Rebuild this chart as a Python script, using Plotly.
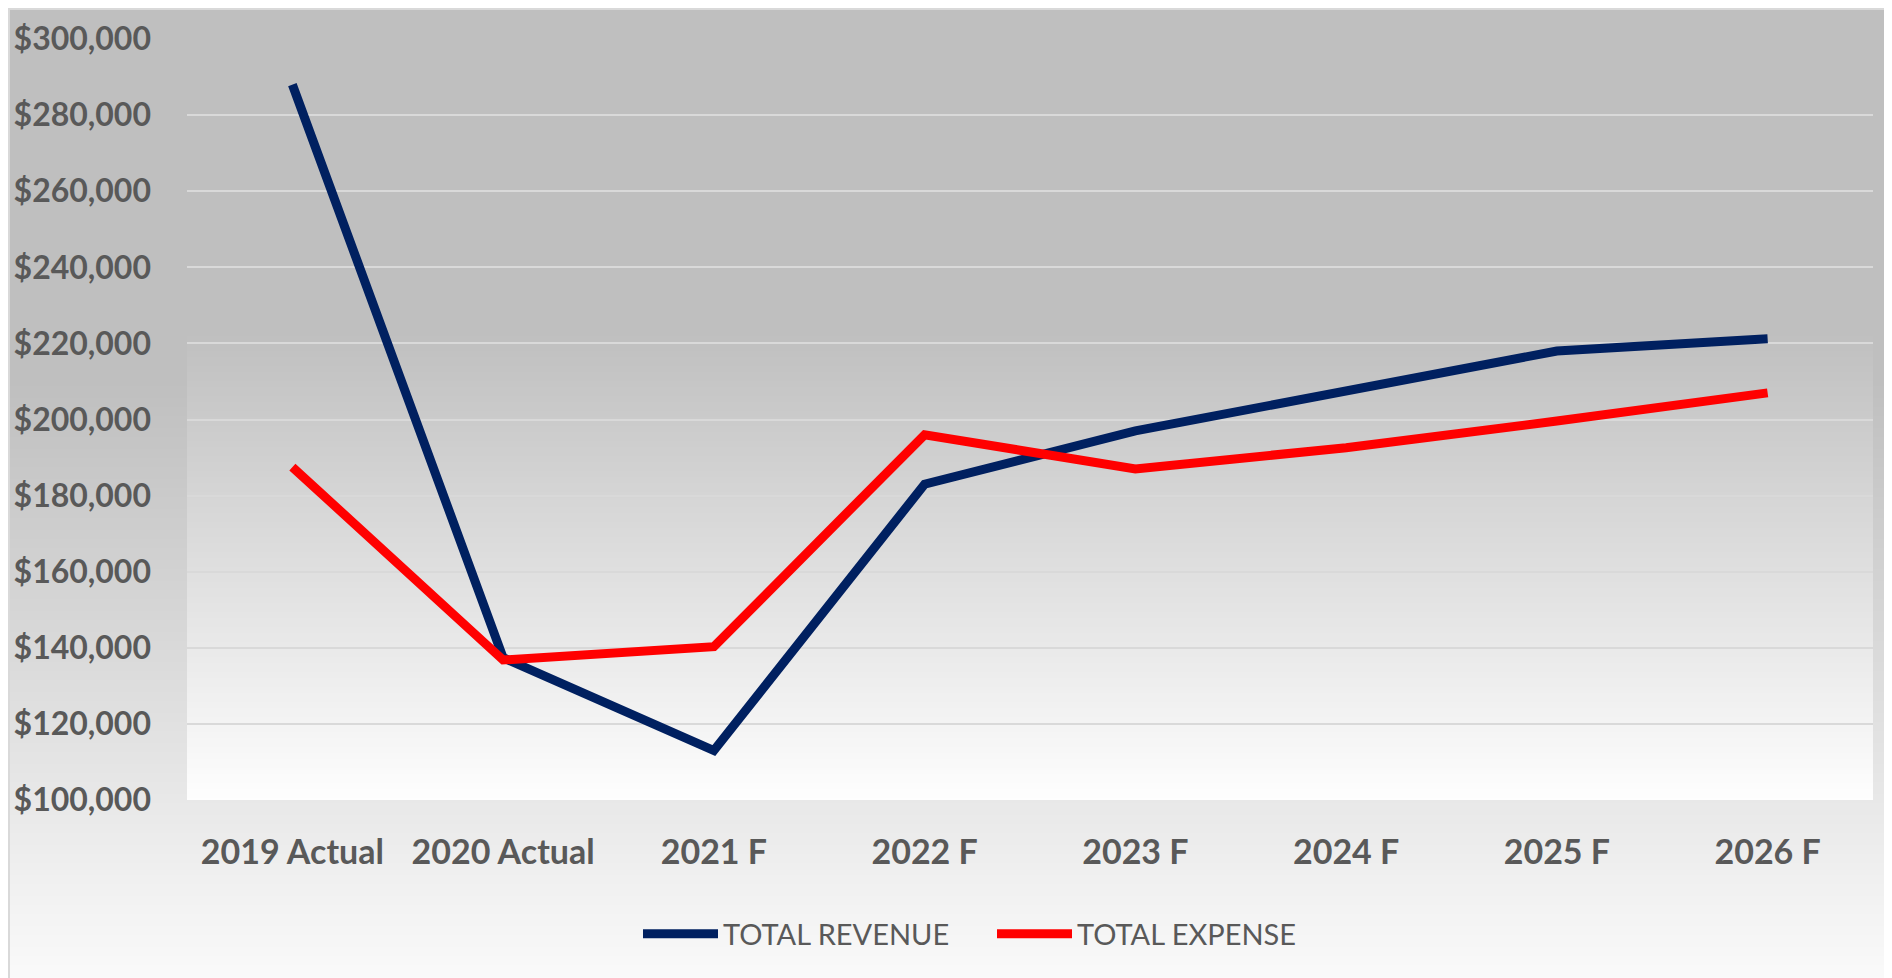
import plotly.graph_objects as go

categories = ["2019 Actual", "2020 Actual", "2021 F", "2022 F", "2023 F", "2024 F", "2025 F", "2026 F"]
total_revenue = [288000, 137400, 113000, 183000, 197000, 207500, 218000, 221200]
total_expense = [187500, 136800, 140300, 196000, 187000, 192600, 199600, 207000]
y_tickvals = [100000, 120000, 140000, 160000, 180000, 200000, 220000, 240000, 260000, 280000, 300000]

# figure is placed by the page with an 8px body margin
OFF = 8
W, H = 1892 - OFF, 978 - OFF
ML, MR, MT, MB = 187 - OFF, 19, 39 - OFF, 178
PW, PH = W - ML - MR, H - MT - MB


def px_to_paper_x(px):
    return (px - OFF - ML) / PW


def px_to_paper_y(py):
    return (H - MB - (py - OFF)) / PH


def gray(v):
    v = int(round(v))
    return f"rgb({v},{v},{v})"


def gradient_strips(x0, x1, y0, y1, g_start, g_end, flat_until, step=3):
    shapes = []
    shapes.append(dict(type="rect", xref="paper", yref="paper", layer="below",
                       x0=px_to_paper_x(x0), x1=px_to_paper_x(x1),
                       y0=px_to_paper_y(flat_until + 1), y1=px_to_paper_y(y0),
                       fillcolor=gray(g_start), line=dict(width=0)))
    py = flat_until
    while py < y1:
        t = (py - flat_until) / (y1 - flat_until)
        g = g_start + (g_end - g_start) * t
        shapes.append(dict(type="rect", xref="paper", yref="paper", layer="below",
                           x0=px_to_paper_x(x0), x1=px_to_paper_x(x1),
                           y0=px_to_paper_y(min(py + step + 1, y1)), y1=px_to_paper_y(py),
                           fillcolor=gray(g), line=dict(width=0)))
        py += step
    return shapes


shapes = []
shapes += gradient_strips(OFF, 1900, OFF, 990, 191, 251, 380)
shapes += gradient_strips(187, 1873, 39, 800, 191, 254, 330)
shapes.append(dict(type="rect", xref="paper", yref="paper", layer="below",
                   x0=px_to_paper_x(OFF + 1), x1=px_to_paper_x(1905),
                   y0=px_to_paper_y(990), y1=px_to_paper_y(OFF + 1),
                   fillcolor="rgba(0,0,0,0)", line=dict(color="#d9d9d9", width=2)))

fig = go.Figure()
fig.add_trace(go.Scatter(x=categories, y=total_revenue, mode="lines", name="TOTAL REVENUE",
                         line=dict(color="#002060", width=9)))
fig.add_trace(go.Scatter(x=categories, y=total_expense, mode="lines", name="TOTAL EXPENSE",
                         line=dict(color="#ff0000", width=9)))

fig.update_layout(
    width=W, height=H,
    margin=dict(l=ML, r=MR, t=MT, b=MB, autoexpand=False),
    paper_bgcolor="white",
    plot_bgcolor="rgba(0,0,0,0)",
    shapes=shapes,
    font=dict(family="Lato", color="#595959"),
    showlegend=True,
    legend=dict(orientation="h", xref="container", x=(638 - OFF) / W, xanchor="left",
                yref="container", y=1 - (934 - OFF) / H, yanchor="middle",
                font=dict(family="Lato", size=29, color="#595959"),
                bgcolor="rgba(0,0,0,0)", itemwidth=75, entrywidth=264,
                tracegroupgap=0),
    xaxis=dict(type="category", range=[-0.5, 7.5], showgrid=False, zeroline=False,
               showline=False, ticks="", ticklabelstandoff=29, automargin=False,
               tickfont=dict(family="Lato", size=34, color="#595959", weight="bold")),
    yaxis=dict(range=[100000, 300000], tickvals=y_tickvals, tickformat="$,.0f",
               showgrid=True, gridcolor="#d9d9d9", gridwidth=2, zeroline=False,
               showline=False, ticks="", ticklabelstandoff=35, automargin=False,
               tickfont=dict(family="Lato", size=32, color="#595959", weight="bold")),
)

fig.write_html("out.html")
